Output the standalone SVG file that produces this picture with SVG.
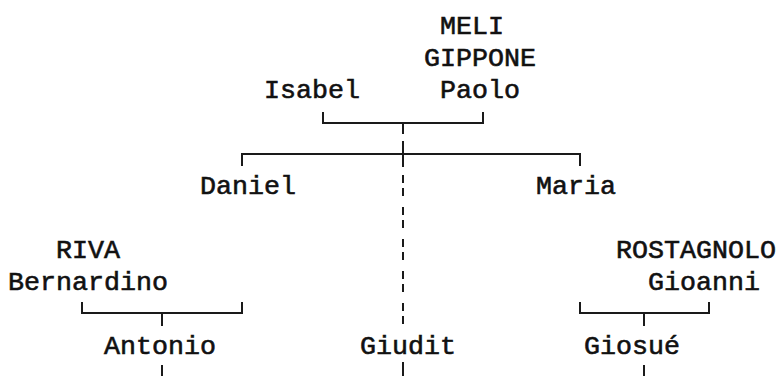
<svg xmlns="http://www.w3.org/2000/svg" width="783" height="376" viewBox="0 0 783 376">
<style>
text{font-family:"Liberation Mono","DejaVu Sans Mono",monospace;font-size:26.67px;fill:#111;stroke:#111;stroke-width:0.6}
.ln{fill:none;stroke:#1a1a1a;stroke-width:2}
.dash{fill:none;stroke:#1a1a1a;stroke-width:2;stroke-dasharray:8 5 8 11}
</style>
<rect width="783" height="376" fill="#fff"/>
<g id="connectors">
<path class="ln" d="M323,112 V123 H483 V112"/>
<path class="ln" d="M403,123 V134 M403,141 V167"/>
<path class="ln" d="M242,166 V154 H580 V166"/>
<path class="dash" d="M403,175 V330"/>
<path class="ln" d="M403,362 V376"/>
<path class="ln" d="M82,302 V313 H242 V302 M162,313 V326 M162,365 V376"/>
<path class="ln" d="M580,302 V313 H709 V302 M644,313 V326 M644,365 V376"/>
</g>
<g id="paolo"><text x="440" y="34">MELI</text><text x="424" y="66">GIPPONE</text><text x="440" y="98">Paolo</text></g>
<g id="isabel"><text x="264" y="98">Isabel</text></g>
<g id="daniel"><text x="200" y="194">Daniel</text></g>
<g id="maria"><text x="536" y="194">Maria</text></g>
<g id="bernardino"><text x="56" y="258">RIVA</text><text x="8" y="290">Bernardino</text></g>
<g id="gioanni"><text x="616" y="258">ROSTAGNOLO</text><text x="648" y="290">Gioanni</text></g>
<g id="antonio"><text x="104" y="354">Antonio</text></g>
<g id="giudit"><text x="360" y="354">Giudit</text></g>
<g id="giosue"><text x="584" y="354">Giosué</text></g>
</svg>
